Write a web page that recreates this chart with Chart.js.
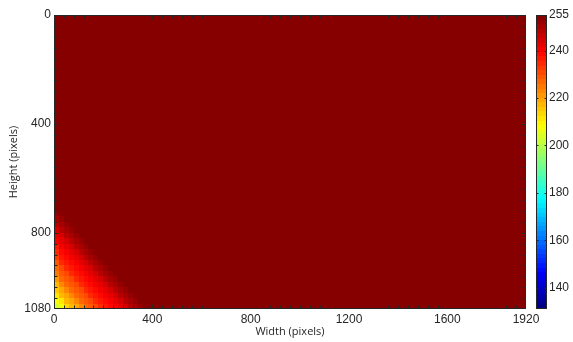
<!DOCTYPE html>
<html>
<head>
<meta charset="utf-8">
<script src="https://cdn.jsdelivr.net/npm/chart.js@4.4.1/dist/chart.umd.min.js"></script>
<style>
  html, body { margin: 0; padding: 0; background: #fff; }
  #wrap { position: relative; width: 573px; height: 342px; overflow: hidden; }
  #main { position: absolute; left: 0; top: 0; }
  #cbar { position: absolute; left: 520px; top: 0; }
</style>
</head>
<body>
<div id="wrap">
  <canvas id="main" width="573" height="342"></canvas>
  <canvas id="cbar" width="53" height="342"></canvas>
</div>
<script>
// Frame size of the sensor image (pixels)
const imageWidth = 1920;
const imageHeight = 1080;

// Axis tick labels
const xTicks = [0, 400, 800, 1200, 1600, 1920];
const yTicks = [0, 400, 800, 1080];
const colorTicks = [140, 160, 180, 200, 220, 240, 255];

// Colour limits of the intensity map
const colorMin = 131;
const colorMax = 255;

// Saturated level that fills most of the frame
const backgroundLevel = 255;
// First image rows read slightly lower
const topEdgeLevel = 232;
const topEdgeRows = 4;

// Darkened lower-left corner, sampled in 20x20 pixel blocks.
// Rows run from y = 680 down to y = 1080, columns from x = 0;
// blocks not listed stay at the background level.
const cellSize = 20;
const cornerTop = 680;
const cornerRows = [
  [],
  [254],
  [252, 254],
  [250, 252, 254],
  [248, 250, 252, 254],
  [245, 248, 250, 252, 254],
  [242, 245, 248, 250, 252, 254],
  [240, 243, 245, 248, 250, 252, 254],
  [237, 241, 243, 245, 248, 250, 252, 254],
  [235, 239, 241, 243, 245, 248, 250, 252, 254],
  [232, 236, 239, 241, 243, 245, 248, 250, 252, 254],
  [229, 234, 236, 239, 241, 243, 245, 248, 250, 252, 254],
  [226, 231, 234, 236, 239, 241, 243, 245, 248, 250, 252, 254],
  [224, 228, 231, 234, 236, 239, 241, 243, 245, 248, 250, 252, 254],
  [221, 226, 228, 231, 234, 236, 239, 241, 243, 245, 248, 250, 252, 254],
  [218, 223, 226, 228, 231, 234, 236, 239, 241, 243, 245, 248, 250, 252, 254],
  [215, 220, 223, 226, 228, 231, 234, 236, 239, 241, 243, 245, 248, 250, 252, 254],
  [212, 217, 220, 223, 226, 228, 231, 234, 236, 239, 241, 243, 245, 248, 250, 252, 254],
  [208, 212, 217, 220, 223, 226, 228, 231, 234, 236, 239, 241, 243, 245, 248, 250, 252, 254],
  [203, 208, 213, 217, 220, 223, 226, 228, 231, 234, 236, 239, 241, 243, 245, 248, 250, 252, 254]
];

// 64-level jet colour map
const mapLevels = 64;
function jet(v) {
  const t = Math.min(1, Math.max(0, (v - colorMin) / (colorMax - colorMin)));
  const idx = Math.min(mapLevels - 1, Math.floor(t * mapLevels));
  const c = (idx + 0.5) / mapLevels;
  const f = k => Math.round(255 * Math.min(1, Math.max(0, 1.5 - Math.abs(4 * c - k))));
  return `rgb(${f(3)},${f(2)},${f(1)})`;
}

const inkColor = '#262626';
const tickFont = { family: '"Liberation Sans", Arial, sans-serif', size: 12 };
const titleFont = { family: '"Open Sans", "Noto Sans", sans-serif', size: 11 };
const plainNumber = v => String(v);

// Paints the intensity blocks in data coordinates
const heatmapPlugin = {
  id: 'heatmap',
  beforeDatasetsDraw(chart) {
    const { ctx, scales: { x, y } } = chart;
    const fillCell = (x0, x1, y0, y1, v) => {
      const px0 = Math.round(x.getPixelForValue(x0));
      const px1 = Math.round(x.getPixelForValue(x1));
      const py0 = Math.round(y.getPixelForValue(y0));
      const py1 = Math.round(y.getPixelForValue(y1));
      ctx.fillStyle = jet(v);
      ctx.fillRect(Math.min(px0, px1), Math.min(py0, py1), Math.abs(px1 - px0), Math.abs(py1 - py0));
    };
    ctx.save();
    fillCell(0, imageWidth, 0, imageHeight, backgroundLevel);
    fillCell(0, imageWidth, 0, topEdgeRows, topEdgeLevel);
    cornerRows.forEach((row, r) => {
      row.forEach((v, i) => {
        fillCell(i * cellSize, (i + 1) * cellSize,
                 cornerTop + r * cellSize, cornerTop + (r + 1) * cellSize, v);
      });
    });
    ctx.restore();
  }
};

// Box outline with inward ticks on all four sides
const minorStep = 40;
const framePlugin = {
  id: 'frame',
  afterDatasetsDraw(chart) {
    const { ctx, chartArea: a, scales: { x, y } } = chart;
    ctx.save();
    ctx.strokeStyle = inkColor;
    ctx.lineWidth = 1;
    const L = Math.round(a.left) + 0.5, R = Math.round(a.right) - 0.5;
    const T = Math.round(a.top) + 0.5, B = Math.round(a.bottom) - 0.5;
    ctx.beginPath();
    for (let v = minorStep; v < imageWidth; v += minorStep) {
      const px = Math.round(x.getPixelForValue(v)) + 0.5;
      const len = xTicks.includes(v) ? 4 : 3;
      ctx.moveTo(px, B); ctx.lineTo(px, B - len);
      ctx.moveTo(px, T); ctx.lineTo(px, T + len);
    }
    for (let v = minorStep; v < imageHeight; v += minorStep) {
      const py = Math.round(y.getPixelForValue(v)) + 0.5;
      const len = yTicks.includes(v) ? 4 : 3;
      ctx.moveTo(L, py); ctx.lineTo(L + len, py);
      ctx.moveTo(R, py); ctx.lineTo(R - len, py);
    }
    ctx.stroke();
    ctx.strokeRect(L, T, R - L, B - T);
    ctx.restore();
  }
};

new Chart(document.getElementById('main'), {
  type: 'scatter',
  data: { datasets: [{ data: [] }] },
  options: {
    responsive: false,
    animation: false,
    devicePixelRatio: 1,
    events: [],
    layout: { padding: { left: 0, top: 15, right: 47, bottom: 0 } },
    plugins: { legend: { display: false }, tooltip: { enabled: false } },
    scales: {
      x: {
        type: 'linear', position: 'bottom', min: 0, max: imageWidth,
        afterBuildTicks: s => { s.ticks = xTicks.map(v => ({ value: v })); },
        afterFit: s => { s.height = 33; },
        grid: { display: false, drawTicks: false },
        border: { display: false },
        ticks: { font: tickFont, color: inkColor, padding: 3, maxRotation: 0, autoSkip: false, callback: plainNumber },
        title: { display: true, text: 'Width (pixels)', font: titleFont, color: inkColor, padding: { top: 0, bottom: 4 } }
      },
      y: {
        type: 'linear', position: 'left', min: 0, max: imageHeight, reverse: true,
        afterBuildTicks: s => { s.ticks = yTicks.map(v => ({ value: v })); },
        afterFit: s => { s.width = 54; },
        grid: { display: false, drawTicks: false },
        border: { display: false },
        ticks: { font: tickFont, color: inkColor, padding: 3, autoSkip: false, callback: plainNumber },
        title: { display: true, text: 'Height (pixels)', font: titleFont, color: inkColor, padding: { top: 7, bottom: 0 } }
      }
    }
  },
  plugins: [heatmapPlugin, framePlugin]
});

// Colour bar: 64 bands laid out on its own value scale
const colorbarPlugin = {
  id: 'colorbar',
  beforeDatasetsDraw(chart) {
    const { ctx, chartArea: a, scales: { y } } = chart;
    ctx.save();
    const step = (colorMax - colorMin) / mapLevels;
    for (let k = 0; k < mapLevels; k++) {
      const v0 = colorMin + k * step, v1 = v0 + step;
      const p0 = Math.round(y.getPixelForValue(v0));
      const p1 = Math.round(y.getPixelForValue(v1));
      ctx.fillStyle = jet((v0 + v1) / 2);
      ctx.fillRect(Math.round(a.left), p1, Math.round(a.right) - Math.round(a.left), p0 - p1);
    }
    ctx.strokeStyle = inkColor;
    ctx.lineWidth = 1;
    const L = Math.round(a.left) + 0.5, R = Math.round(a.right) - 0.5;
    ctx.beginPath();
    colorTicks.forEach(v => {
      const py = Math.round(y.getPixelForValue(v)) + 0.5;
      ctx.moveTo(L, py); ctx.lineTo(L + 2, py);
      ctx.moveTo(R, py); ctx.lineTo(R - 2, py);
    });
    ctx.stroke();
    ctx.strokeRect(L, Math.round(a.top) + 0.5, R - L, Math.round(a.bottom) - Math.round(a.top) - 1);
    ctx.restore();
  }
};

new Chart(document.getElementById('cbar'), {
  type: 'scatter',
  data: { datasets: [{ data: [] }] },
  options: {
    responsive: false,
    animation: false,
    devicePixelRatio: 1,
    events: [],
    layout: { padding: { left: 16, top: 15, right: 0, bottom: 33 } },
    plugins: { legend: { display: false }, tooltip: { enabled: false } },
    scales: {
      x: { type: 'linear', display: false, min: 0, max: 1 },
      y: {
        type: 'linear', position: 'right', min: colorMin, max: colorMax,
        afterBuildTicks: s => { s.ticks = colorTicks.map(v => ({ value: v })); },
        afterFit: s => { s.width = 26; },
        grid: { display: false, drawTicks: false },
        border: { display: false },
        ticks: { font: tickFont, color: inkColor, padding: 2, autoSkip: false, callback: plainNumber }
      }
    }
  },
  plugins: [colorbarPlugin]
});
</script>
</body>
</html>
